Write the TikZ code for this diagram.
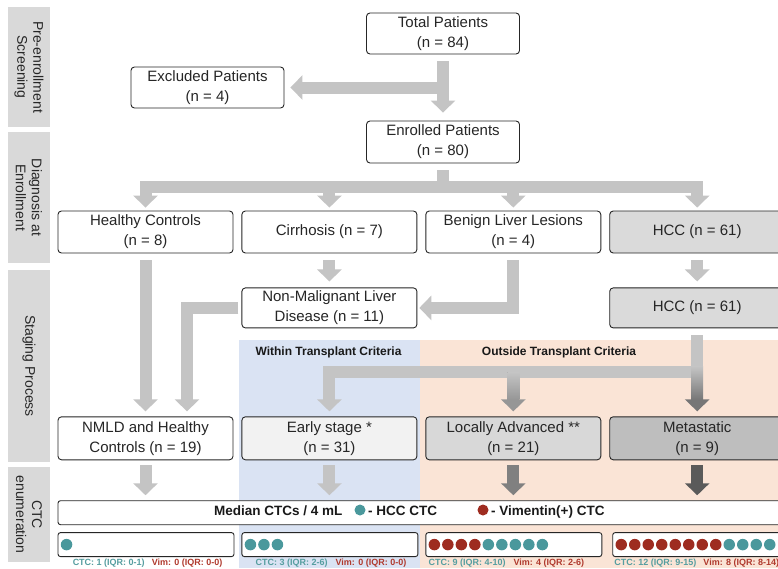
\documentclass[tikz,border=0pt]{standalone}
\usepackage{fontspec}
\setmainfont{Liberation Sans}
\usetikzlibrary{arrows.meta, positioning, calc}

\definecolor{arrgray}{RGB}{196,196,196}
\definecolor{locgray}{RGB}{150,150,150}
\definecolor{metgray}{RGB}{118,118,118}
\definecolor{locdark}{RGB}{128,128,128}
\definecolor{metdark}{RGB}{90,90,90}
\definecolor{bandgray}{RGB}{217,217,217}
\definecolor{hccfill}{RGB}{218,218,218}
\definecolor{earlyfill}{RGB}{242,242,242}
\definecolor{locfill}{RGB}{216,216,216}
\definecolor{metfill}{RGB}{190,190,190}
\definecolor{withinblue}{RGB}{218,227,243}
\definecolor{outsidepink}{RGB}{250,228,214}
\definecolor{hccteal}{RGB}{74,152,156}
\definecolor{vimred}{RGB}{158,44,32}
\definecolor{tealtext}{RGB}{86,158,160}
\definecolor{redtext}{RGB}{176,58,46}

\begin{document}
\begin{tikzpicture}[x=1pt, y=-1pt,
  box/.style={draw=black!85, line width=0.9pt, rounded corners=3.5pt, minimum width=175pt, minimum height=42pt, inner sep=1pt, align=center, font=\fontsize{15}{20}\selectfont, text=black!85, fill=white},
  band/.style={fill=bandgray, rotate=-90, minimum height=42pt, inner sep=0pt, align=center, font=\fontsize{14}{16}\selectfont, text=black!85},
  arr/.style={draw=arrgray, line width=12pt, -{Triangle[width=24pt, length=12pt]}, shorten >=4pt},
  bar/.style={draw=arrgray, line width=12pt},
  crit/.style={font=\fontsize{12}{14}\selectfont\bfseries, text=black!90},
  ctcbox/.style={draw=black!85, line width=0.9pt, rounded corners=2.5pt, minimum width=176pt, minimum height=24pt, inner sep=0pt, fill=white},
  legtxt/.style={font=\fontsize{13.5}{15}\selectfont\bfseries, text=black!90, inner sep=0pt, anchor=base west},
  dot/.style={circle, minimum size=11.5pt, inner sep=0pt},
  captxt/.style={font=\fontsize{9}{11}\selectfont\bfseries, anchor=west, inner sep=0pt}
]
\fill[white] (0,0) rectangle (778,568);
\useasboundingbox (0,0) rectangle (778,568);
\clip (0,0) rectangle (778,568);

% criteria shading
\fill[withinblue] (239,340) rectangle (420,568);
\fill[outsidepink] (420,340) rectangle (778,568);

% row labels
\node[band, minimum width=120pt] (b1) at (29,67) {Pre-enrollment\\Screening};
\node[band, minimum width=131pt] (b2) at (29,197.5) {Diagnosis at\\Enrollment};
\node[band, minimum width=192pt] (b3) at (29,366) {Staging Process};
\node[band, minimum width=95pt] (b4) at (29,514.5) {CTC\\enumeration};

% screening
\node[box, minimum width=153pt, minimum height=41pt] (total) at (443,33.5) {Total Patients\\(n = 84)};
\node[box, minimum width=153pt, minimum height=41pt] (excl) at (207.5,87.5) {Excluded Patients\\(n = 4)};
\node[box, minimum width=153pt] (enrolled) at (443,142) {Enrolled Patients\\(n = 80)};

% diagnosis
\node[box] (hc) at (145.5,232) {Healthy Controls\\(n = 8)};
\node[box, right=8pt of hc] (cirr) {Cirrhosis (n = 7)};
\node[box, right=8pt of cirr] (benign) {Benign Liver Lesions\\(n = 4)};
\node[box, right=8pt of benign, fill=hccfill] (hcc) {HCC (n = 61)};

% staging
\node[box, below=34pt of cirr, minimum height=40pt] (nmld) {Non-Malignant Liver\\Disease (n = 11)};
\node[box, below=34pt of hcc, minimum height=40pt, fill=hccfill] (hcc2) {HCC (n = 61)};
\node[crit] (within) at (328.5,352) {Within Transplant Criteria};
\node[crit] (outside) at (559,352) {Outside Transplant Criteria};
\node[box, below=88pt of nmld, minimum height=43pt, fill=earlyfill] (early) {Early stage *\\(n = 31)};
\node[box, left=8pt of early, minimum height=43pt] (nmldhc) {NMLD and Healthy\\Controls (n = 19)};
\node[box, right=8pt of early, minimum height=43pt, fill=locfill] (local) {Locally Advanced **\\(n = 21)};
\node[box, right=8pt of local, minimum height=43pt, fill=metfill] (meta) {Metastatic\\(n = 9)};

% CTC enumeration
\node[ctcbox, minimum width=730pt, anchor=north west] (median) at ($(nmldhc.south west)+(0,40)$) {};
\node[legtxt] (medtxt) at (214,515) {Median CTCs / 4 mL};
\node[dot, minimum size=11pt, fill=hccteal] (legteal) at (360,510) {};
\node[legtxt] (legtealtxt) at (368,515) {- HCC CTC};
\node[dot, minimum size=11pt, fill=vimred] (legred) at (483,510) {};
\node[legtxt] (legredtxt) at (491,515) {- Vimentin(+) CTC};

\node[ctcbox, below=7pt of median.south west, anchor=north west] (ctc1) {};
\node[ctcbox, right=7pt of ctc1] (ctc2) {};
\node[ctcbox, right=7pt of ctc2] (ctc3) {};
\node[ctcbox, right=10pt of ctc3] (ctc4) {};

\node[dot, fill=hccteal] at ($(ctc1.west)+(9,0)$) {};
\foreach \i in {1,...,3}
  \node[dot, fill=hccteal] at ($(ctc2.west)+(13.5*\i-4.5,0)$) {};
\foreach \i in {1,...,4}
  \node[dot, fill=vimred] at ($(ctc3.west)+(13.5*\i-4.5,0)$) {};
\foreach \i in {5,...,9}
  \node[dot, fill=hccteal] at ($(ctc3.west)+(13.5*\i-4.5,0)$) {};
\foreach \i in {1,...,8}
  \node[dot, fill=vimred] at ($(ctc4.west)+(13.5*\i-4.5,0)$) {};
\foreach \i in {9,...,12}
  \node[dot, fill=hccteal] at ($(ctc4.west)+(13.5*\i-4.5,0)$) {};

\node[captxt] (cap1) at ($(ctc1.south west)+(15,6)$) {\textcolor{tealtext}{CTC: 1 (IQR: 0-1)}\hspace{7pt}\textcolor{redtext}{Vim: 0 (IQR: 0-0)}};
\node[captxt] (cap2) at ($(ctc2.south west)+(14,6)$) {\textcolor{tealtext}{CTC: 3 (IQR: 2-6)}\hspace{8pt}\textcolor{redtext}{Vim: 0 (IQR: 0-0)}};
\node[captxt] (cap3) at ($(ctc3.south west)+(3,6)$) {\textcolor{tealtext}{CTC: 9 (IQR: 4-10)}\hspace{8pt}\textcolor{redtext}{Vim: 4 (IQR: 2-6)}};
\node[captxt] (cap4) at ($(ctc4.south west)+(2,6)$) {\textcolor{tealtext}{CTC: 12 (IQR: 9-15)}\hspace{7pt}\textcolor{redtext}{Vim: 8 (IQR: 8-14)}};

% screening arrows
\coordinate (exsplit) at (total.south |- excl.east);
\draw[arr, shorten <=7pt, shorten >=8pt] (total) -- (enrolled);
\draw[arr, shorten >=6pt] (exsplit) -- (excl.east);

% diagnosis arrows
\coordinate (dxsplit) at ($(enrolled.south)+(0,24)$);
\draw[bar, shorten <=7pt] (enrolled.south) -- (dxsplit);
\foreach \n in {hc, cirr, benign, hcc}
  \draw[arr, shorten >=3pt] (dxsplit) -| (\n.north);

% staging arrows
\draw[arr, shorten <=7pt, shorten >=6pt] (cirr) -- (nmld);
\draw[arr, shorten <=7pt, shorten >=6pt] (hcc) -- (hcc2);
\draw[arr, shorten <=7pt, shorten >=2pt] (benign.south) |- (nmld.east);
\coordinate (nmldin) at ($(nmldhc.north)+(41.5,0)$);
\draw[arr, shorten <=3pt, shorten >=5pt] (nmld.west) -| (nmldin);
\draw[arr, shorten <=7pt, shorten >=5pt] (hc) -- (nmldhc);

\coordinate (stsplit) at ($(hcc2.south)+(0,44)$);
\coordinate (locsplit) at (stsplit -| local.north);
\draw[bar, shorten <=7pt] (hcc2.south) -- (stsplit);
\draw[arr, shorten >=5pt] (stsplit) -| (early.north);
\draw[arr, draw=locgray, shorten >=5pt] (locsplit) -- (local.north);
\shade[top color=arrgray, bottom color=locgray] ($(locsplit)+(-6,0)$) rectangle ($(local.north)+(6,-16.5)$);
\draw[arr, draw=metgray, shorten >=5pt] (stsplit) -- (meta.north);
\shade[top color=arrgray, bottom color=metgray] ($(stsplit)+(-6,-6)$) rectangle ($(meta.north)+(6,-16.5)$);

% enumeration arrows
\foreach \n/\c in {nmldhc/arrgray, early/arrgray, local/locdark, meta/metdark}
  \draw[arr, draw=\c, shorten <=5pt, shorten >=5pt] (\n.south) -- (\n.south |- median.north);
\end{tikzpicture}
\end{document}
